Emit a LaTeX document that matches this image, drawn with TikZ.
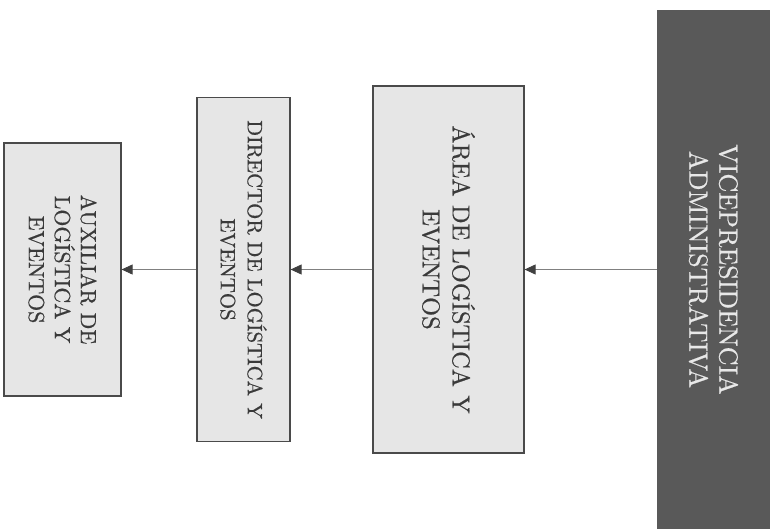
\documentclass[tikz,border=0pt]{standalone}
\usepackage{fontspec}
\setmainfont{lmroman10-regular}[Extension=.otf, FakeBold=0.6]
\usetikzlibrary{arrows.meta}
\definecolor{boxfill}{HTML}{E6E6E6}
\definecolor{boxline}{HTML}{4A4A4A}
\definecolor{boxtext}{HTML}{3A3A3A}
\definecolor{headfill}{HTML}{595959}
\definecolor{headtext}{HTML}{E8E8E8}
\definecolor{linkcol}{HTML}{808080}
\definecolor{tipcol}{HTML}{404040}
\begin{document}
\begin{tikzpicture}[x=1pt,y=-1pt,
  box/.style={draw=boxline, fill=boxfill, line width=1.2pt, rotate=-90,
    align=center, text=boxtext, inner sep=0pt},
  head/.style={fill=headfill, draw=none, rotate=-90, align=center,
    text=headtext, inner sep=0pt},
  link/.style={draw=linkcol, line width=0.8pt,
    -{Triangle[length=11pt,width=10pt,color=tipcol]}}]
  % page frame
  \useasboundingbox (0,0) rectangle (773,528);
  \fill[white] (0,0) rectangle (773,528);
  % organisational units, written top to bottom
  \node[head, minimum width=519pt, minimum height=113pt,
    font=\fontsize{26.2}{30}\selectfont] (vp) at (713.5,269.5)
    {VICEPRESIDENCIA\\ADMINISTRATIVA};
  \node[box, minimum width=367pt, minimum height=151pt,
    font=\fontsize{24.5}{30}\selectfont] (area) at (448.5,269.5)
    {ÁREA DE LOGÍSTICA Y\\EVENTOS};
  \node[box, minimum width=344pt, minimum height=93pt,
    font=\fontsize{20.8}{27}\selectfont] (dir) at (243.5,269.5)
    {DIRECTOR DE LOGÍSTICA Y\\EVENTOS};
  \node[box, minimum width=253pt, minimum height=117pt,
    font=\fontsize{21.9}{26}\selectfont] (aux) at (62.5,269.5)
    {AUXILIAR DE\\LOGÍSTICA Y\\EVENTOS};
  % reporting lines
  \draw[link] (vp) -- (area);
  \draw[link] (area) -- (dir);
  \draw[link] (dir) -- (aux);
\end{tikzpicture}
\end{document}
